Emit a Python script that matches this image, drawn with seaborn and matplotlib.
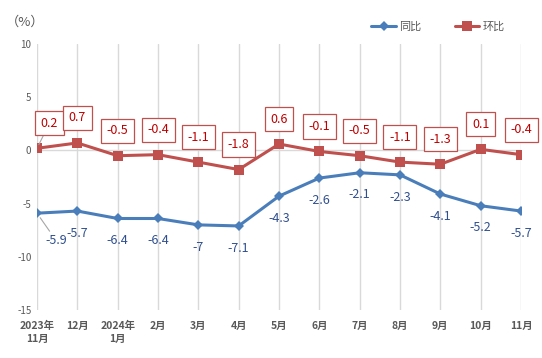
import numpy as np
import pandas as pd
import matplotlib
matplotlib.use('Agg')
import matplotlib.pyplot as plt
import seaborn as sns

# data
months = ['2023年\n11月', '12月', '2024年\n1月', '2月', '3月', '4月', '5月',
          '6月', '7月', '8月', '9月', '10月', '11月']
yoy = [-5.9, -5.7, -6.4, -6.4, -7, -7.1, -4.3, -2.6, -2.1, -2.3, -4.1, -5.2, -5.7]
mom = [0.2, 0.7, -0.5, -0.4, -1.1, -1.8, 0.6, -0.1, -0.5, -1.1, -1.3, 0.1, -0.4]
yoy_labels = ['-5.9', '-5.7', '-6.4', '-6.4', '-7', '-7.1', '-4.3', '-2.6', '-2.1', '-2.3', '-4.1', '-5.2', '-5.7']
mom_labels = ['0.2', '0.7', '-0.5', '-0.4', '-1.1', '-1.8', '0.6', '-0.1', '-0.5', '-1.1', '-1.3', '0.1', '-0.4']

blue = '#4a7ebb'
red = '#c0504d'

sns.set_style('white')
plt.rcParams['font.family'] = ['Noto Sans CJK SC', 'DejaVu Sans']

df = pd.DataFrame({
    'x': list(range(len(months))) * 2,
    'val': yoy + mom,
    'series': ['同比'] * len(months) + ['环比'] * len(months),
})

fig = plt.figure(figsize=(5.42, 3.58), dpi=100)
ax = fig.add_axes([37 / 542, 48 / 358, 484 / 542, 266 / 358])

sns.lineplot(data=df, x='x', y='val', hue='series', style='series',
             palette={'同比': blue, '环比': red},
             markers={'同比': 'D', '环比': 's'}, dashes=False,
             linewidth=2.2, markeredgewidth=0, ax=ax, legend=False)
for ln, ms in zip(ax.lines, [5, 6.5]):
    ln.set_markersize(ms)

ax.set_xlim(0, len(months) - 1)
ax.set_ylim(-15, 10)
ax.set_yticks([-15, -10, -5, 0, 5, 10])
ax.set_xticks(range(len(months)))
ax.set_xticklabels(months, fontsize=7.5, fontweight='bold', color='#595959',
                   linespacing=1.3)
ax.set_yticklabels(['-15', '-10', '-5', '0', '5', '10'], fontsize=7,
                   color='#595959')
ax.tick_params(axis='both', length=0, pad=4)
ax.tick_params(axis='x', pad=8)
ax.set_xlabel('')
ax.set_ylabel('')
for s in ax.spines.values():
    s.set_visible(False)
ax.grid(axis='x', color='#d9d9d9', linewidth=1)
ax.axhline(0, color='#d9d9d9', linewidth=1, zorder=0)

lab_font = ['Liberation Sans Narrow', 'Noto Sans CJK SC', 'DejaVu Sans']

for i, (v, t) in enumerate(zip(yoy, yoy_labels)):
    if i == 0:
        ax.annotate(t, (i, v), xytext=(14, -20), textcoords='offset points',
                    ha='center', va='center', fontsize=9, color='#2f4f8f',
                    family=lab_font,
                    arrowprops=dict(arrowstyle='-', color='#a6a6a6', lw=0.8,
                                    shrinkA=0, shrinkB=4))
    else:
        ax.annotate(t, (i, v), xytext=(0, -16), textcoords='offset points',
                    ha='center', va='center', fontsize=9, color='#2f4f8f',
                    family=lab_font)

box = dict(boxstyle='square,pad=0.45', fc='white', ec=red, lw=0.9)
for i, (v, t) in enumerate(zip(mom, mom_labels)):
    if i == 0:
        ax.annotate(t, (i, v), xytext=(9, 18), textcoords='offset points',
                    ha='center', va='center', fontsize=9, color='#c00000',
                    family=lab_font, bbox=box,
                    arrowprops=dict(arrowstyle='-', color='#a6a6a6', lw=0.8,
                                    shrinkA=0, shrinkB=3))
    else:
        ax.annotate(t, (i, v), xytext=(0, 18), textcoords='offset points',
                    ha='center', va='center', fontsize=9, color='#c00000',
                    family=lab_font, bbox=box)

fig.text(25 / 542, 1 - 22 / 358, '（%）', fontsize=9.5, color='#595959',
         ha='center', va='center')

handles = [
    plt.Line2D([], [], color=blue, marker='D', markersize=5, lw=2.2, markeredgewidth=0),
    plt.Line2D([], [], color=red, marker='s', markersize=6.5, lw=2.2, markeredgewidth=0),
]
fig.legend(handles, ['同比', '环比'], loc='center', ncol=2,
           bbox_to_anchor=(438 / 542, 1 - 27 / 358), frameon=False,
           fontsize=8, handlelength=2.2, columnspacing=3, handletextpad=0.3,
           labelcolor='#595959')

fig.savefig('out.png', dpi=100)
